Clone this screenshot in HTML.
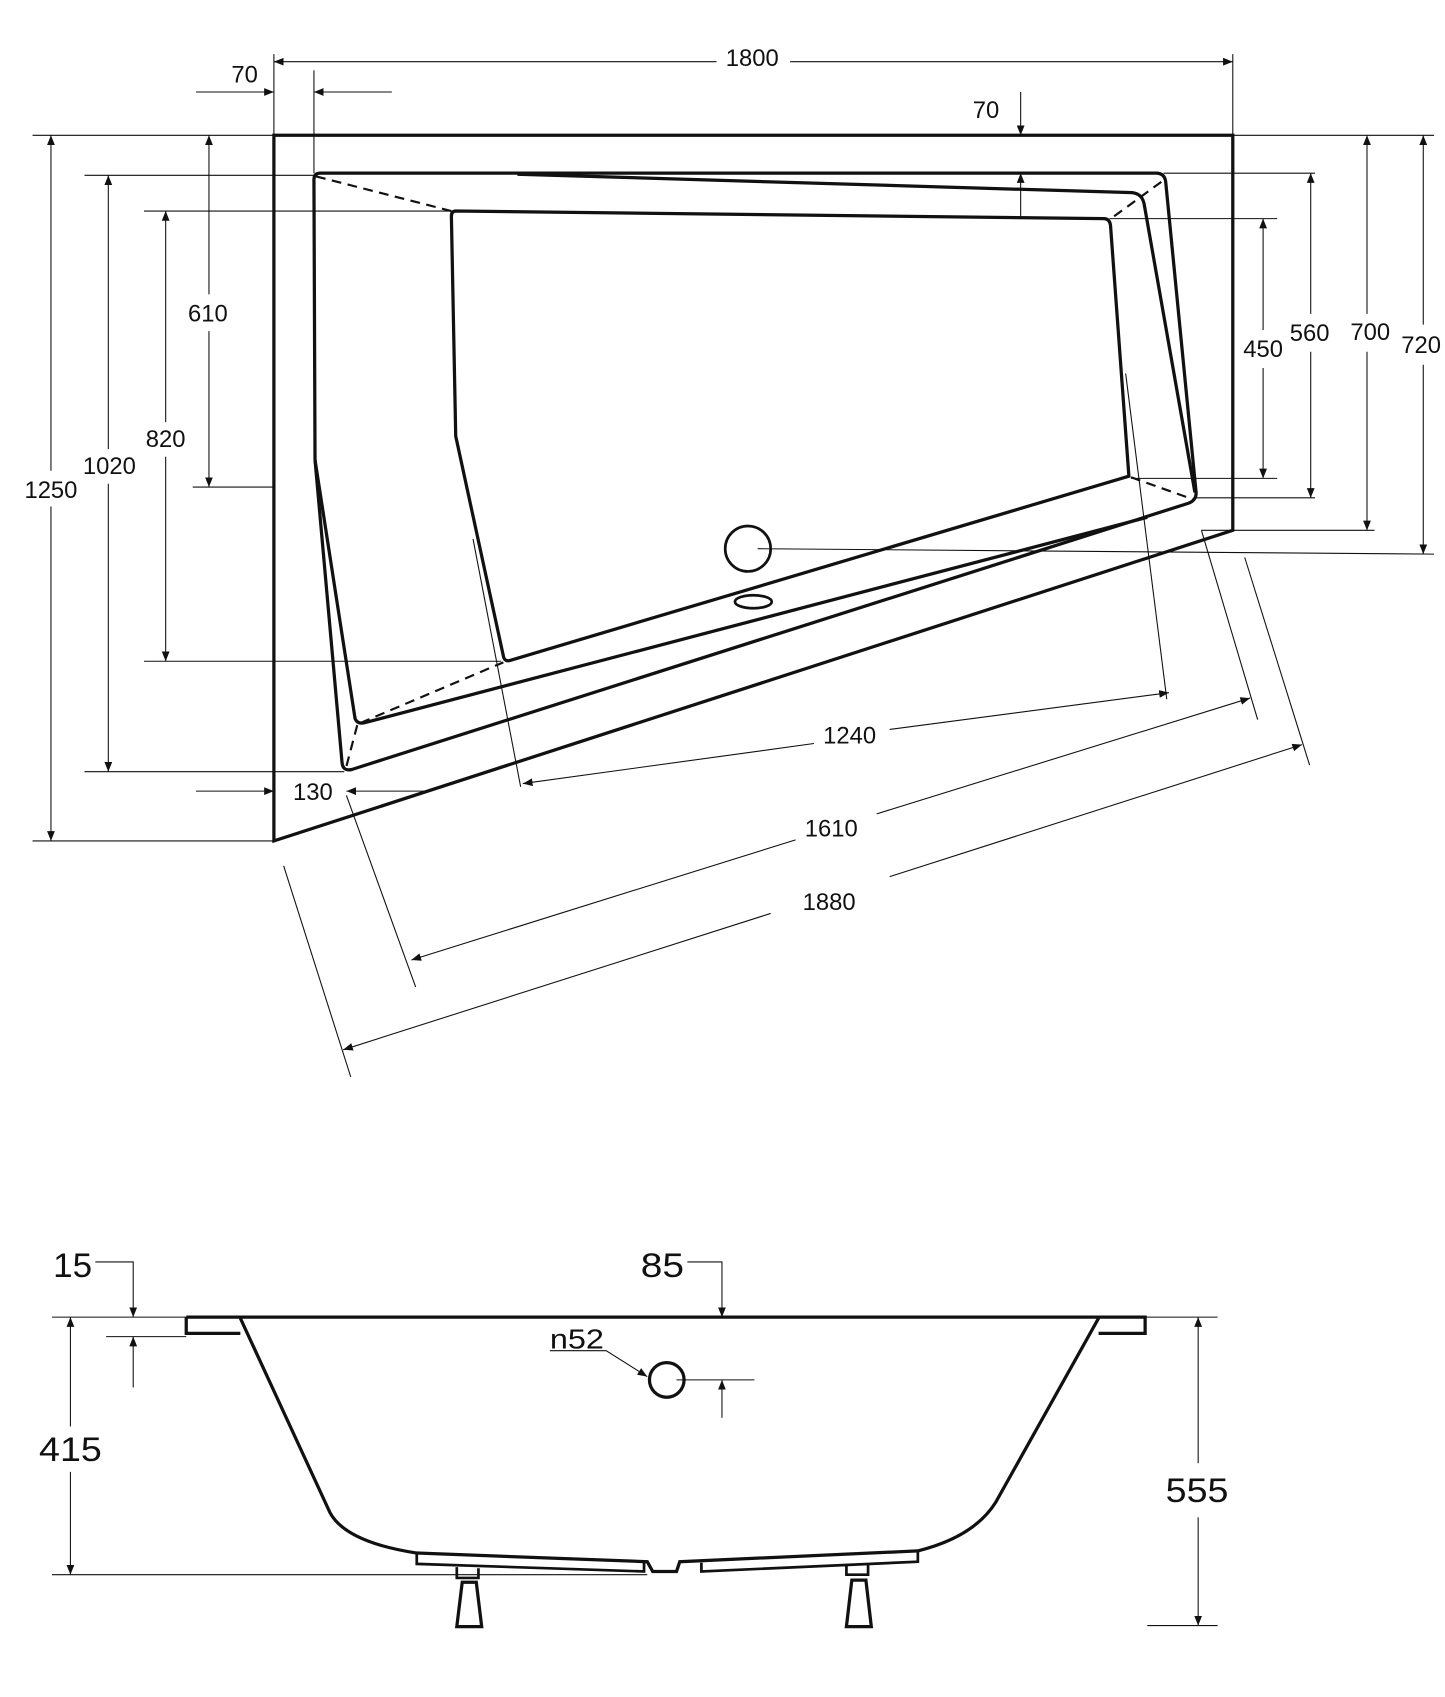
<!DOCTYPE html>
<html><head><meta charset="utf-8"><style>html,body{margin:0;padding:0;background:#fff}svg{display:block}</style></head>
<body>
<svg width="1445" height="1697" viewBox="0 0 1335 1568" xmlns="http://www.w3.org/2000/svg" font-family="Liberation Sans, sans-serif">
<defs>
<marker id="a" viewBox="0 0 10 10" refX="10" refY="5" markerWidth="9" markerHeight="9" markerUnits="userSpaceOnUse" orient="auto-start-reverse"><path d="M0,1 L10,5 L0,9 z" fill="#111"/></marker>
</defs>
<g fill="none" stroke="#111">
<polygon points="253,125 1139,125 1139,490 253,777" stroke-width="3"/>
<path d="M296,160 L1068,160 Q1076,160 1077,168 L1105,454 Q1106,462 1098,465 L325,711 Q317,713 316,705 L291,425 L290,166 Q290,160 296,160 Z" stroke-width="3"/>
<path d="M478,161 L1046,178 Q1055,179 1057,188 L1104,455" stroke-width="3"/>
<path d="M291,425 L328,664 Q330,669 336,668 L1060,478" stroke-width="3"/>
<path d="M421,195 L1020,202 Q1025,202 1026,208 L1043,440 L472,610 Q466,612 465,606 L421,403 L417,200 Q417,195 421,195 Z" stroke-width="3"/>
<g stroke-width="2" stroke-dasharray="9,6">
<line x1="292" y1="163" x2="417" y2="195"/>
<line x1="1073" y1="168" x2="1025" y2="203"/>
<line x1="1045" y1="441" x2="1104" y2="462"/>
<line x1="333" y1="668" x2="465" y2="612"/>
<line x1="330" y1="670" x2="320" y2="708"/>
</g>
<circle cx="691" cy="507" r="21" stroke-width="2.5"/>
<ellipse cx="696" cy="556" rx="17" ry="6" stroke-width="2.5"/>

<g stroke-width="1">
<line x1="253" y1="50" x2="253" y2="125"/><line x1="1139" y1="50" x2="1139" y2="125"/>
<line x1="253" y1="57" x2="662" y2="57" marker-start="url(#a)"/><line x1="730" y1="57" x2="1139" y2="57" marker-end="url(#a)"/>
<line x1="290" y1="65" x2="290" y2="160"/>
<line x1="181" y1="85" x2="253" y2="85" marker-end="url(#a)"/>
<line x1="362" y1="85" x2="290" y2="85" marker-end="url(#a)"/>
<line x1="943" y1="85" x2="943" y2="125" marker-end="url(#a)"/>
<line x1="943" y1="200" x2="943" y2="160" marker-end="url(#a)"/>
<line x1="30" y1="125" x2="253" y2="125"/><line x1="30" y1="777" x2="253" y2="777"/>
<line x1="47" y1="125" x2="47" y2="435" marker-start="url(#a)"/><line x1="47" y1="468" x2="47" y2="777" marker-end="url(#a)"/>
<line x1="78" y1="162" x2="290" y2="162"/><line x1="78" y1="713" x2="318" y2="713"/>
<line x1="100" y1="162" x2="100" y2="415" marker-start="url(#a)"/><line x1="100" y1="447" x2="100" y2="713" marker-end="url(#a)"/>
<line x1="133" y1="195" x2="417" y2="195"/><line x1="133" y1="611" x2="463" y2="611"/>
<line x1="153" y1="195" x2="153" y2="390" marker-start="url(#a)"/><line x1="153" y1="422" x2="153" y2="611" marker-end="url(#a)"/>
<line x1="178" y1="450" x2="253" y2="450"/>
<line x1="193" y1="125" x2="193" y2="272" marker-start="url(#a)"/><line x1="193" y1="306" x2="193" y2="450" marker-end="url(#a)"/>
<line x1="181" y1="731" x2="253" y2="731" marker-end="url(#a)"/>
<line x1="395" y1="731" x2="320" y2="731" marker-end="url(#a)"/>
<line x1="1025" y1="202" x2="1180" y2="202"/><line x1="1045" y1="442" x2="1180" y2="442"/>
<line x1="1167" y1="202" x2="1167" y2="305" marker-start="url(#a)"/><line x1="1167" y1="340" x2="1167" y2="442" marker-end="url(#a)"/>
<line x1="1075" y1="160" x2="1215" y2="160"/><line x1="1105" y1="460" x2="1215" y2="460"/>
<line x1="1211" y1="160" x2="1211" y2="290" marker-start="url(#a)"/><line x1="1211" y1="325" x2="1211" y2="460" marker-end="url(#a)"/>
<line x1="1139" y1="125" x2="1325" y2="125"/><line x1="1110" y1="490" x2="1270" y2="490"/>
<line x1="1263" y1="125" x2="1263" y2="290" marker-start="url(#a)"/><line x1="1263" y1="325" x2="1263" y2="490" marker-end="url(#a)"/>
<line x1="700" y1="507" x2="1325" y2="512"/>
<line x1="1315" y1="125" x2="1315" y2="300" marker-start="url(#a)"/><line x1="1315" y1="337" x2="1315" y2="512" marker-end="url(#a)"/>
<line x1="437" y1="498" x2="481" y2="727"/><line x1="1040" y1="345" x2="1078" y2="646"/>
<line x1="483" y1="724" x2="752" y2="687" marker-start="url(#a)"/><line x1="822" y1="674" x2="1080" y2="640" marker-end="url(#a)"/>
<line x1="320" y1="735" x2="384" y2="912"/><line x1="1110" y1="490" x2="1162" y2="665"/>
<line x1="380" y1="887" x2="735" y2="776" marker-start="url(#a)"/><line x1="810" y1="752" x2="1155" y2="645" marker-end="url(#a)"/>
<line x1="262" y1="800" x2="324" y2="995"/><line x1="1150" y1="515" x2="1210" y2="707"/>
<line x1="317" y1="970" x2="712" y2="844" marker-start="url(#a)"/><line x1="822" y1="810" x2="1203" y2="688" marker-end="url(#a)"/>
</g>
</g>
<g font-size="22" fill="#111" text-anchor="middle">
<text x="695" y="61">1800</text>
<text x="226" y="76">70</text>
<text x="911" y="109">70</text>
<text x="47" y="460">1250</text>
<text x="101" y="438">1020</text>
<text x="153" y="413">820</text>
<text x="192" y="297">610</text>
<text x="289" y="739">130</text>
<text x="1167" y="330">450</text>
<text x="1210" y="315">560</text>
<text x="1266" y="314">700</text>
<text x="1313" y="326">720</text>
<text x="785" y="687">1240</text>
<text x="768" y="773">1610</text>
<text x="766" y="841">1880</text>
</g>

<g fill="none" stroke="#111">
<path d="M172,1217 L1058,1217 L1058,1232 L1015,1232 M172,1217 L172,1232 L222,1232" stroke-width="3"/>
<path d="M222,1218 L305,1398 Q320,1425 385,1435 L598,1443 L603,1452 L625,1452 L628,1443 L848,1433 Q900,1420 920,1388 L1015,1218" stroke-width="3"/>
<path d="M385,1436 L385,1445 L595,1452 L595,1444" stroke-width="2.5"/>
<path d="M848,1434 L848,1443 L648,1452 L648,1444" stroke-width="2.5"/>
<path d="M422,1448 L422,1458 L442,1458 L442,1449 M782,1445 L782,1455 L802,1455 L802,1445" stroke-width="2.5"/>
<path d="M427,1462 L440,1462 L445,1503 L422,1503 Z M787,1460 L800,1460 L805,1503 L782,1503 Z" stroke-width="3"/>
<circle cx="616" cy="1275" r="16" stroke-width="3"/>
<g stroke-width="1">
<line x1="48" y1="1217" x2="172" y2="1217"/><line x1="98" y1="1235" x2="172" y2="1235"/>
<path d="M88,1166 L123,1166 L123,1217" marker-end="url(#a)"/>
<line x1="123" y1="1282" x2="123" y2="1235" marker-end="url(#a)"/>
<path d="M635,1166 L667,1166 L667,1217" marker-end="url(#a)"/>
<line x1="667" y1="1310" x2="667" y2="1275" marker-end="url(#a)"/>
<line x1="625" y1="1275" x2="697" y2="1275"/>
<path d="M508,1248 L560,1248 L598,1272" marker-end="url(#a)"/>
<line x1="65" y1="1217" x2="65" y2="1318" marker-start="url(#a)"/><line x1="65" y1="1360" x2="65" y2="1455" marker-end="url(#a)"/>
<line x1="48" y1="1455" x2="598" y2="1455"/>
<line x1="1058" y1="1217" x2="1125" y2="1217"/><line x1="1060" y1="1502" x2="1125" y2="1502"/>
<line x1="1107" y1="1217" x2="1107" y2="1352" marker-start="url(#a)"/><line x1="1107" y1="1402" x2="1107" y2="1502" marker-end="url(#a)"/>
</g>
</g>
<g fill="#111" text-anchor="middle">
<text x="67" y="1180" font-size="32" textLength="36" lengthAdjust="spacingAndGlyphs">15</text>
<text x="612" y="1180" font-size="32" textLength="40" lengthAdjust="spacingAndGlyphs">85</text>
<text x="533" y="1246" font-size="26" textLength="50" lengthAdjust="spacingAndGlyphs">n52</text>
<text x="65" y="1350" font-size="32" textLength="58" lengthAdjust="spacingAndGlyphs">415</text>
<text x="1106" y="1388" font-size="32" textLength="58" lengthAdjust="spacingAndGlyphs">555</text>
</g>
</svg>
</body></html>
